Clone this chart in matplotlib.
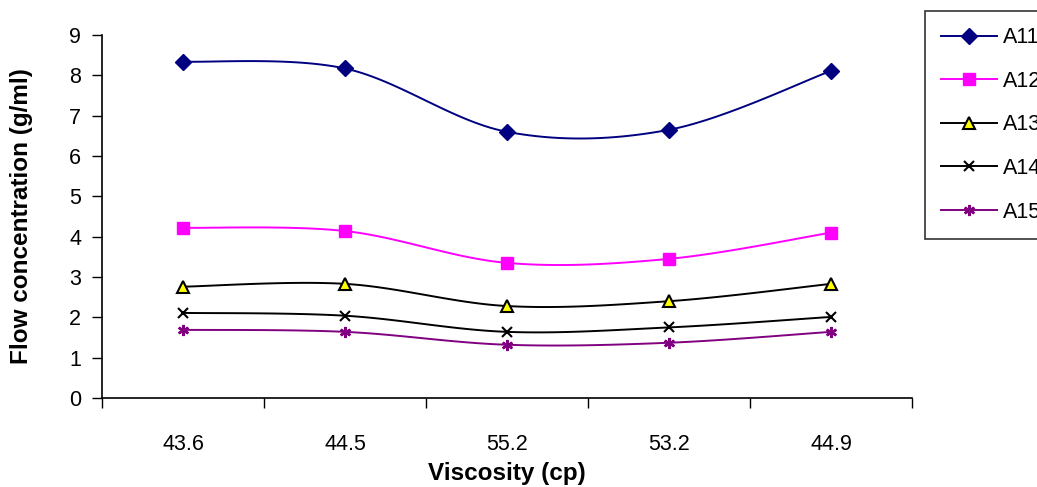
import matplotlib.pyplot as plt
import numpy as np

plt.rcParams['font.family'] = ['Liberation Sans', 'DejaVu Sans']

categories = ['43.6', '44.5', '55.2', '53.2', '44.9']
a11 = [8.34, 8.17, 6.60, 6.65, 8.11]
a12 = [4.22, 4.14, 3.35, 3.45, 4.10]
a13 = [2.76, 2.83, 2.28, 2.40, 2.83]
a14 = [2.11, 2.04, 1.64, 1.75, 2.01]
a15 = [1.69, 1.64, 1.32, 1.37, 1.64]


def smooth(y, n=30):
    """Excel-like smoothed line: cubic Bezier with Catmull-Rom control points"""
    x = np.arange(len(y), dtype=float)
    y = np.asarray(y, dtype=float)
    pts = np.column_stack([x, y])
    out = [pts[0]]
    t = np.linspace(0, 1, n)[1:, None]
    for i in range(len(pts) - 1):
        p0 = pts[max(i - 1, 0)]
        p1, p2 = pts[i], pts[i + 1]
        p3 = pts[min(i + 2, len(pts) - 1)]
        c1 = p1 + (p2 - p0) / 6
        c2 = p2 - (p3 - p1) / 6
        seg = ((1 - t) ** 3) * p1 + 3 * ((1 - t) ** 2) * t * c1 + 3 * (1 - t) * t ** 2 * c2 + t ** 3 * p2
        out.extend(seg)
    out = np.array(out)
    return out[:, 0], out[:, 1]


series = [
    ('A11', a11, dict(color='#000080', marker='D', markersize=8, mfc='#000080', mec='#000080')),
    ('A12', a12, dict(color='#FF00FF', marker='s', markersize=8, mfc='#FF00FF', mec='#FF00FF')),
    ('A13', a13, dict(color='black', marker='^', markersize=9, mfc='#FFFF00', mec='black', mew=1.5)),
    ('A14', a14, dict(color='black', marker='x', markersize=7, mec='black', mew=1.5)),
    ('A15', a15, dict(color='#800080', marker=(6, 2, 0), markersize=8, mec='#800080', mew=1.8)),
]

fig = plt.figure(figsize=(10.37, 4.87), dpi=100)
ax = fig.add_axes([102 / 1037, 1 - 398 / 487, 810 / 1037, 363 / 487])

x = np.arange(len(categories))
handles = []
for name, vals, st in series:
    sx, sy = smooth(vals)
    ax.plot(sx, sy, color=st['color'], lw=1.4, zorder=2)
    mk = {k: v for k, v in st.items() if k != 'color'}
    ax.plot(x, vals, linestyle='none', zorder=3, **mk)
    # proxy for legend
    h, = ax.plot([], [], color=st['color'], lw=1.4, **mk)
    handles.append(h)

ax.set_xlim(-0.5, len(categories) - 0.5)
ax.set_ylim(0, 9)
ax.set_yticks(range(0, 10))
ax.set_xticks(x)
ax.set_xticklabels(categories)
ax.set_xticks(np.arange(-0.5, len(categories)), minor=True)
ax.tick_params(axis='x', which='major', length=0, pad=26, labelsize=15.5)
ax.tick_params(axis='x', which='minor', length=7, width=1, direction='out')
ax.tick_params(axis='y', length=7, width=1, direction='out', pad=8, labelsize=15.5)

for s in ['top', 'right']:
    ax.spines[s].set_visible(False)
for s in ['left', 'bottom']:
    ax.spines[s].set_linewidth(1.2)

ax.set_xlabel('Viscosity (cp)', fontsize=17.5, fontweight='bold')
ax.set_ylabel('Flow concentration (g/ml)', fontsize=17.5, fontweight='bold')
ax.xaxis.set_label_coords(0.5, -0.175)
ax.yaxis.set_label_coords(-0.085, 0.5)

leg = fig.legend(handles, [s[0] for s in series],
                 loc='upper left', bbox_to_anchor=(925 / 1037, 1 - 11 / 487),
                 frameon=True, fancybox=False, edgecolor='black', fontsize=15.5,
                 handlelength=2.6, labelspacing=1.05, borderpad=0.75, handletextpad=0.25,
                 borderaxespad=0)
leg.get_frame().set_linewidth(1.2)

fig.savefig('out.png', dpi=100)
